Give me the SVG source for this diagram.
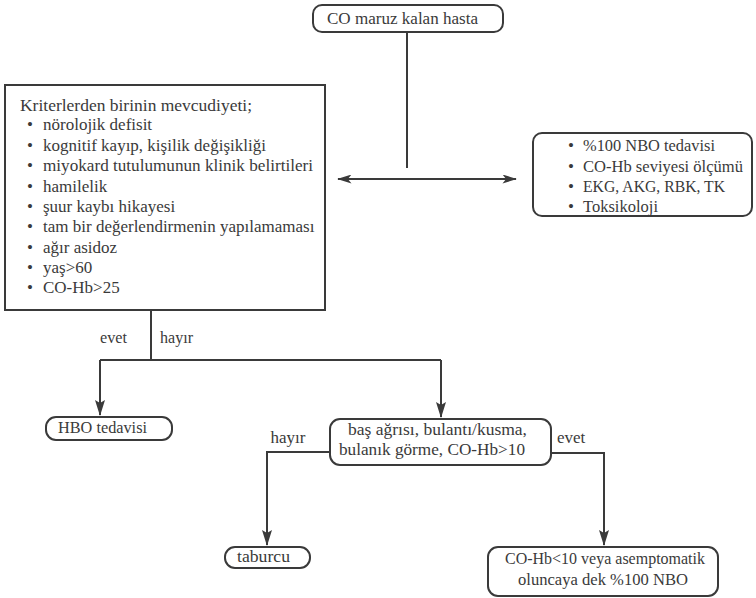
<svg xmlns="http://www.w3.org/2000/svg" width="756" height="598" viewBox="0 0 756 598" font-family="Liberation Serif, DejaVu Serif, serif">
<defs>
<style>
text{font-size:17px;fill:#3a3a3a}
.c{text-anchor:middle}
.box{fill:#fff;stroke:#3a3a3a;stroke-width:2}
.ln{fill:none;stroke:#3a3a3a;stroke-width:2}
</style>
<marker id="ah" viewBox="0 0 16 10" refX="15" refY="5" markerWidth="16" markerHeight="9" markerUnits="userSpaceOnUse" orient="auto-start-reverse">
<path d="M0,0 L16,5 L0,10 L4,5 Z" fill="#3a3a3a"/>
</marker>
<marker id="ad" viewBox="0 0 16 10" refX="15" refY="5" markerWidth="17" markerHeight="10" markerUnits="userSpaceOnUse" orient="auto">
<path d="M0,0 L16,5 L0,10 L3,5 Z" fill="#3a3a3a"/>
</marker>
</defs>
<rect width="756" height="598" fill="#fff"/>
<g id="connectors">
<path class="ln" d="M407,32 V168"/>
<path class="ln" d="M338,179 H516" marker-start="url(#ah)" marker-end="url(#ah)"/>
<path class="ln" d="M151,310 V360"/>
<path class="ln" d="M100,360 H441"/>
<path class="ln" d="M100,360 V415" marker-end="url(#ad)"/>
<path class="ln" d="M441,360 V417" marker-end="url(#ad)"/>
<path class="ln" d="M330,452 H267 V545" marker-end="url(#ad)"/>
<path class="ln" d="M551,453 H604 V545" marker-end="url(#ad)"/>
<text x="100" y="343" textLength="27" lengthAdjust="spacingAndGlyphs">evet</text>
<text x="160" y="343" textLength="33" lengthAdjust="spacingAndGlyphs">hayır</text>
<text x="288" y="443" class="c">hayır</text>
<text x="557" y="443">evet</text>
</g>
<g id="start">
<rect class="box" x="313" y="5" width="190" height="27" rx="9"/>
<text x="327" y="24" textLength="151" lengthAdjust="spacingAndGlyphs">CO maruz kalan hasta</text>
</g>
<g id="criteria">
<rect class="box" x="5" y="85" width="320" height="225"/>
<text x="20" y="111" textLength="232" lengthAdjust="spacingAndGlyphs">Kriterlerden birinin mevcudiyeti;</text>
<g>
<text x="27" y="130">•</text><text x="43" y="130">nörolojik defisit</text>
<text x="27" y="151">•</text><text x="43" y="151">kognitif kayıp, kişilik değişikliği</text>
<text x="27" y="171">•</text><text x="43" y="171" textLength="270" lengthAdjust="spacingAndGlyphs">miyokard tutulumunun klinik belirtileri</text>
<text x="27" y="192">•</text><text x="43" y="192">hamilelik</text>
<text x="27" y="212">•</text><text x="43" y="212">şuur kaybı hikayesi</text>
<text x="27" y="232">•</text><text x="43" y="232">tam bir değerlendirmenin yapılamaması</text>
<text x="27" y="253">•</text><text x="43" y="253">ağır asidoz</text>
<text x="27" y="273">•</text><text x="43" y="273">yaş&gt;60</text>
<text x="27" y="293">•</text><text x="43" y="293">CO-Hb&gt;25</text>
</g>
</g>
<g id="initial">
<rect class="box" x="533" y="133" width="219" height="83" rx="9"/>
<text x="568" y="151">•</text><text x="583" y="151" textLength="132" lengthAdjust="spacingAndGlyphs">%100 NBO tedavisi</text>
<text x="568" y="172">•</text><text x="583" y="172" textLength="160" lengthAdjust="spacingAndGlyphs">CO-Hb seviyesi ölçümü</text>
<text x="568" y="192">•</text><text x="583" y="192" textLength="142" lengthAdjust="spacingAndGlyphs">EKG, AKG, RBK, TK</text>
<text x="568" y="212">•</text><text x="583" y="212" textLength="75" lengthAdjust="spacingAndGlyphs">Toksikoloji</text>
</g>
<g id="hbo">
<rect class="box" x="46" y="417" width="126" height="23" rx="10"/>
<text x="58" y="433" textLength="89" lengthAdjust="spacingAndGlyphs">HBO tedavisi</text>
</g>
<g id="symptoms">
<rect class="box" x="330" y="419" width="221" height="46" rx="10"/>
<text x="348" y="435" textLength="179" lengthAdjust="spacingAndGlyphs">baş ağrısı, bulantı/kusma,</text>
<text x="339" y="455" textLength="186" lengthAdjust="spacingAndGlyphs">bulanık görme, CO-Hb&gt;10</text>
</g>
<g id="discharge">
<rect class="box" x="225" y="547" width="85" height="21" rx="10"/>
<text x="237" y="562" textLength="53" lengthAdjust="spacingAndGlyphs">taburcu</text>
</g>
<g id="nbo">
<rect class="box" x="488" y="547" width="230" height="49" rx="10"/>
<text x="505" y="564" textLength="200" lengthAdjust="spacingAndGlyphs">CO-Hb&lt;10 veya asemptomatik</text>
<text x="518" y="585" textLength="170" lengthAdjust="spacingAndGlyphs">oluncaya dek %100 NBO</text>
</g>
</svg>
